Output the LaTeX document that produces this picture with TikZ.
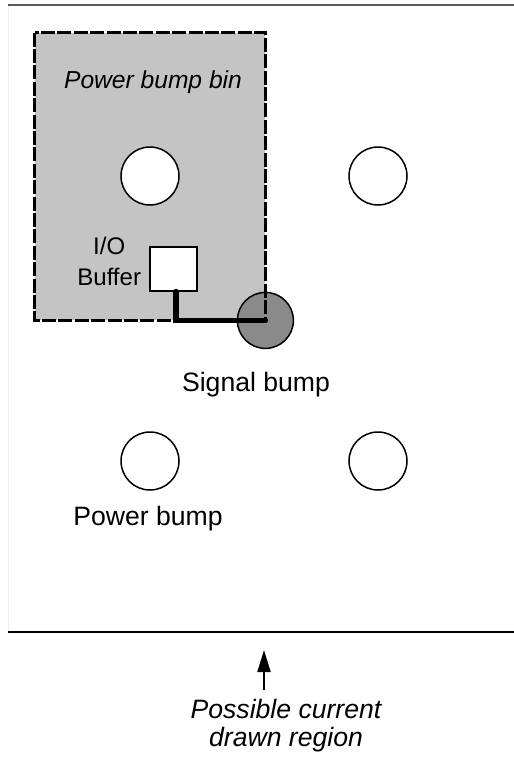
\documentclass[tikz,border=0pt]{standalone}
\usepackage{fontspec}
\setmainfont{Liberation Sans}
\usepackage{xcolor}
\usetikzlibrary{positioning, arrows.meta}

\definecolor{binfill}{HTML}{C4C4C4}
\definecolor{sigfill}{HTML}{8A8A8A}

\begin{document}
\begin{tikzpicture}[x=0.5pt, y=-0.5pt,
        % Define block styles
        bump/.style={draw, circle, fill=white, line width=0.75pt, minimum size=29pt, inner sep=0pt},
        sigbump/.style={draw, circle, fill=sigfill, line width=0.75pt, minimum size=28pt, inner sep=0pt},
        binbox/.style={rectangle, fill=binfill, minimum width=115pt, minimum height=143.5pt, inner sep=0pt},
        binedge/.style={draw, line width=1.5pt, dash pattern=on 7pt off 1.2pt},
        iobox/.style={draw, rectangle, fill=white, line width=0.6pt, minimum width=23.5pt, minimum height=22pt, inner sep=0pt},
        wire/.style={draw, line width=2.8pt, line cap=round},
        txt/.style={font=\fontsize{13.3}{14}\selectfont, inner sep=0pt, align=center},
        pointer/.style={draw, line width=1pt, -{Triangle[length=11pt, width=6.5pt]}}
    ]
    \useasboundingbox (0,0) rectangle (514,761);

    % --- Region frame ---
    \draw[black!6, line width=0.5pt] (8,5) -- (8,632);
    \draw[black!65, line width=1pt] (8,5) -- (514,5);
    \draw[line width=1.2pt] (8,632) -- (514,632);

    % --- Bin and signal bump ---
    \node[binbox] (bin) at (150,176.5) {};
    \node[sigbump] (sig) at (bin.south east) {};
    \draw[binedge] (bin.north west) rectangle (bin.south east);
    \node[txt, font=\fontsize{12.3}{14}\selectfont\itshape] (binlbl) at (153,82) {Power bump bin};

    % --- Power bumps ---
    \node[bump] (pb1) at (150,176) {};
    \node[bump] (pb2) at (378,176) {};
    \node[bump] (pb3) at (150,461) {};
    \node[bump] (pb4) at (378,461) {};

    % --- I/O buffer ---
    \node[iobox] (buf) at (173.5,269) {};
    \node[txt, font=\fontsize{12}{15.5}\selectfont, left=4pt of buf, yshift=4pt] (buflbl) {I/O\\Buffer};
    \draw[wire] ([xshift=1.25pt]buf.south) |- (sig.center);

    % --- Labels ---
    \node[txt] (siglbl) at (256,385) {Signal bump};
    \node[txt] (pwrlbl) at (148,519) {Power bump};

    % --- Current region pointer ---
    \coordinate (tip) at (264,650);
    \coordinate (tail) at (264,690);
    \draw[pointer] (tail) -- (tip);
    \node[txt, font=\fontsize{13.3}{14}\selectfont\itshape] (cur) at (286,726) {Possible current\\drawn region};

\end{tikzpicture}
\end{document}
